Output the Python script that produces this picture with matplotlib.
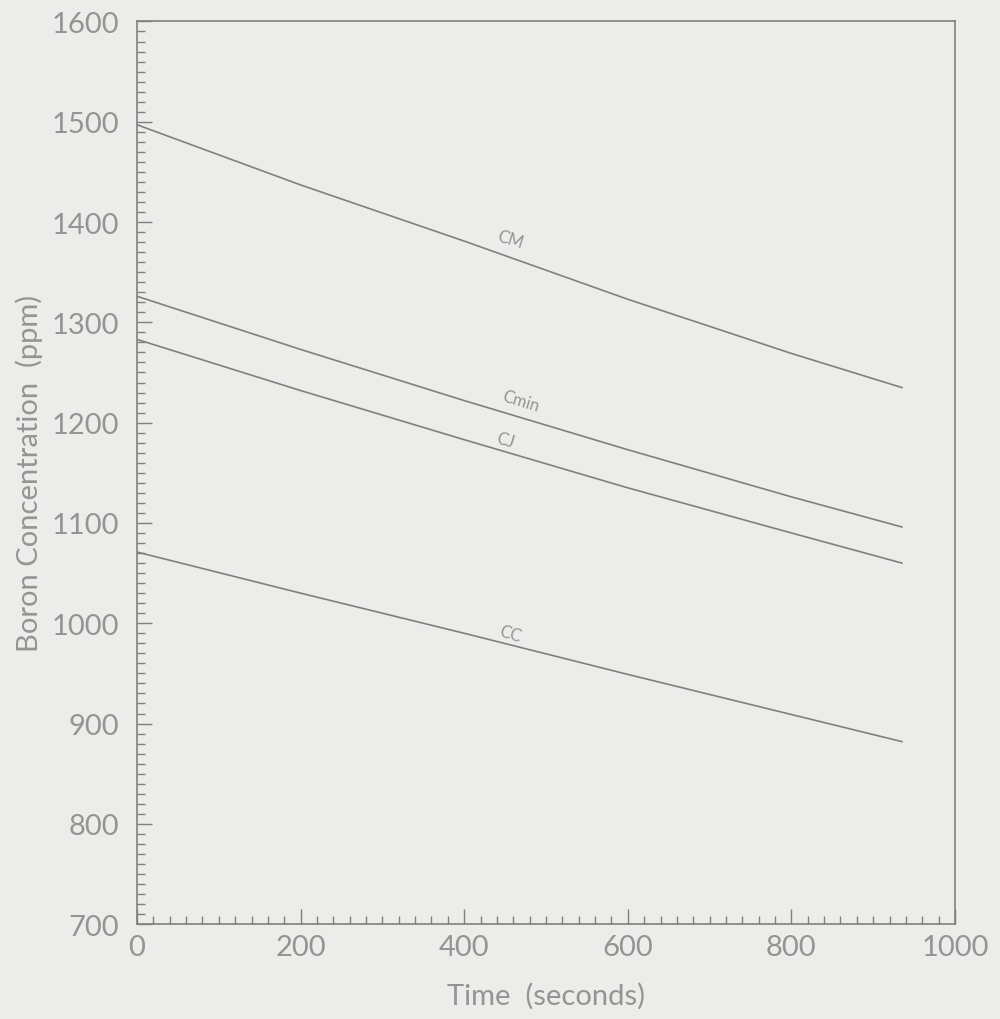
import matplotlib
matplotlib.use("Agg")
import matplotlib.pyplot as plt
from matplotlib.ticker import MultipleLocator

# values (time in s, boron in ppm)
time_s = [0, 200, 400, 600, 800, 935]
cm = [1497, 1437, 1381, 1323, 1269, 1235]
cmin = [1326, 1273, 1222, 1173, 1126, 1096]
cj = [1283, 1232, 1183, 1135, 1090, 1060]
cc = [1071, 1030, 990, 949, 909, 882]

curve_names = ["CM", "Cmin", "CJ", "CC"]
label_x = [456, 469, 450, 456]
label_y = [1383, 1222, 1183, 990]

BG = "#ececea"
INK = "#949494"
LINE = "#808080"

plt.rcParams["font.family"] = ["Lato", "DejaVu Sans"]

fig = plt.figure(figsize=(10, 10.2), dpi=100, facecolor=BG)
ax = fig.add_axes([0.137, 0.093, 0.818, 0.885], facecolor=BG)

for series in (cm, cmin, cj, cc):
    ax.plot(time_s, series, color=LINE, lw=1.2)

for name, lx, ly in zip(curve_names, label_x, label_y):
    ax.text(lx, ly, name, color=INK, fontsize=12, rotation=-17,
            ha="center", va="center")

ax.set_xlim(0, 1000)
ax.set_ylim(700, 1600)
ax.xaxis.set_major_locator(MultipleLocator(200))
ax.xaxis.set_minor_locator(MultipleLocator(20))
ax.yaxis.set_major_locator(MultipleLocator(100))
ax.yaxis.set_minor_locator(MultipleLocator(10))

ax.tick_params(which="both", direction="in", colors=LINE, labelcolor=INK,
               top=False, right=False)
ax.tick_params(which="major", length=11, width=1, labelsize=21)
ax.tick_params(axis="y", which="major", pad=13)
ax.tick_params(axis="x", which="major", pad=7)
ax.tick_params(which="minor", length=6, width=1)

for sp in ax.spines.values():
    sp.set_color(LINE)
    sp.set_linewidth(1.2)

ax.set_xlabel("Time  (seconds)", color=INK, fontsize=21, labelpad=16)
ax.set_ylabel("Boron Concentration  (ppm)", color=INK, fontsize=21, labelpad=6)

fig.savefig("out.png", dpi=100, facecolor=BG)
